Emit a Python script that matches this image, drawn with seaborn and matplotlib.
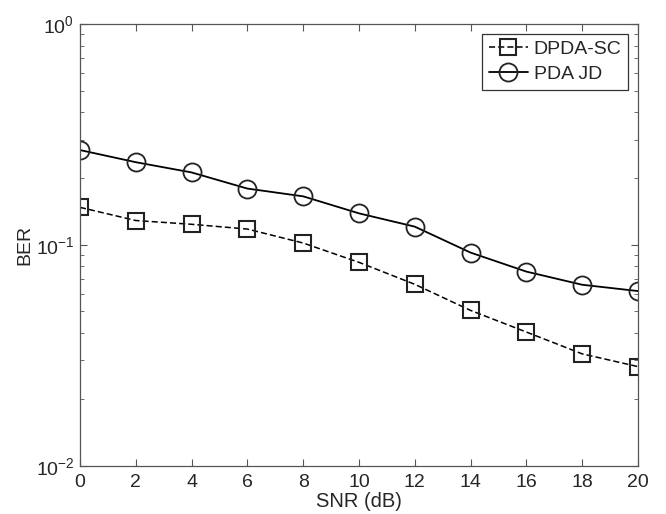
import numpy as np
import pandas as pd
import matplotlib
matplotlib.use("Agg")
import matplotlib.pyplot as plt
import seaborn as sns
from matplotlib.ticker import LogLocator, NullFormatter

snr_db = [0, 2, 4, 6, 8, 10, 12, 14, 16, 18, 20]
ber_dpda_sc = [0.148, 0.129, 0.124, 0.118, 0.102, 0.0834, 0.0663, 0.0505, 0.0403, 0.0321, 0.0281]
ber_pda_jd = [0.269, 0.237, 0.213, 0.180, 0.166, 0.139, 0.121, 0.0923, 0.0757, 0.066, 0.0618]

sns.set_style("ticks")
plt.rcParams['font.family'] = ['Liberation Sans', 'DejaVu Sans']
plt.rcParams['mathtext.fontset'] = 'custom'
plt.rcParams['mathtext.rm'] = 'Liberation Sans'

fig = plt.figure(figsize=(6.66, 5.14), dpi=100)
ax = fig.add_axes([0.120, 0.094, 0.838, 0.859])

df_sc = pd.DataFrame({'snr': snr_db, 'ber': ber_dpda_sc})
df_jd = pd.DataFrame({'snr': snr_db, 'ber': ber_pda_jd})

sns.lineplot(data=df_sc, x='snr', y='ber', ax=ax, color='black', lw=1.1,
             linestyle=(0, (4, 2)), marker='s', markersize=11,
             markerfacecolor='none', markeredgecolor='#222222', markeredgewidth=1.5,
             label='DPDA-SC')
sns.lineplot(data=df_jd, x='snr', y='ber', ax=ax, color='black', lw=1.3,
             marker='o', markersize=13,
             markerfacecolor='none', markeredgecolor='#222222', markeredgewidth=1.3,
             label='PDA JD')

ax.set_yscale('log')
ax.set_xlim(0, 20)
ax.set_ylim(1e-2, 1e0)
ax.set_xticks(snr_db)
ax.yaxis.set_major_locator(LogLocator(base=10))
ax.yaxis.set_minor_locator(LogLocator(base=10, subs=np.arange(2, 10)))
ax.yaxis.set_minor_formatter(NullFormatter())

for side in ['top', 'right', 'left', 'bottom']:
    ax.spines[side].set_visible(True)
    ax.spines[side].set_color('#555555')
    ax.spines[side].set_linewidth(0.9)
ax.tick_params(which='both', direction='in', top=True, right=True,
               color='#555555', labelsize=14)
ax.tick_params(axis='x', pad=6)
ax.tick_params(axis='y', pad=4)
ax.tick_params(which='major', length=5)
ax.tick_params(which='minor', length=3)

ax.set_xlabel('SNR (dB)', fontsize=14.5, labelpad=1)
ax.set_ylabel('BER', fontsize=14, labelpad=2)

leg = ax.legend(loc='upper right', fontsize=14, frameon=True, fancybox=False,
                edgecolor='black', handlelength=2.0, handletextpad=0.3,
                borderaxespad=0.5, borderpad=0.35, labelspacing=0.35)
leg.get_frame().set_linewidth(0.9)

fig.savefig('out.png', dpi=100)
